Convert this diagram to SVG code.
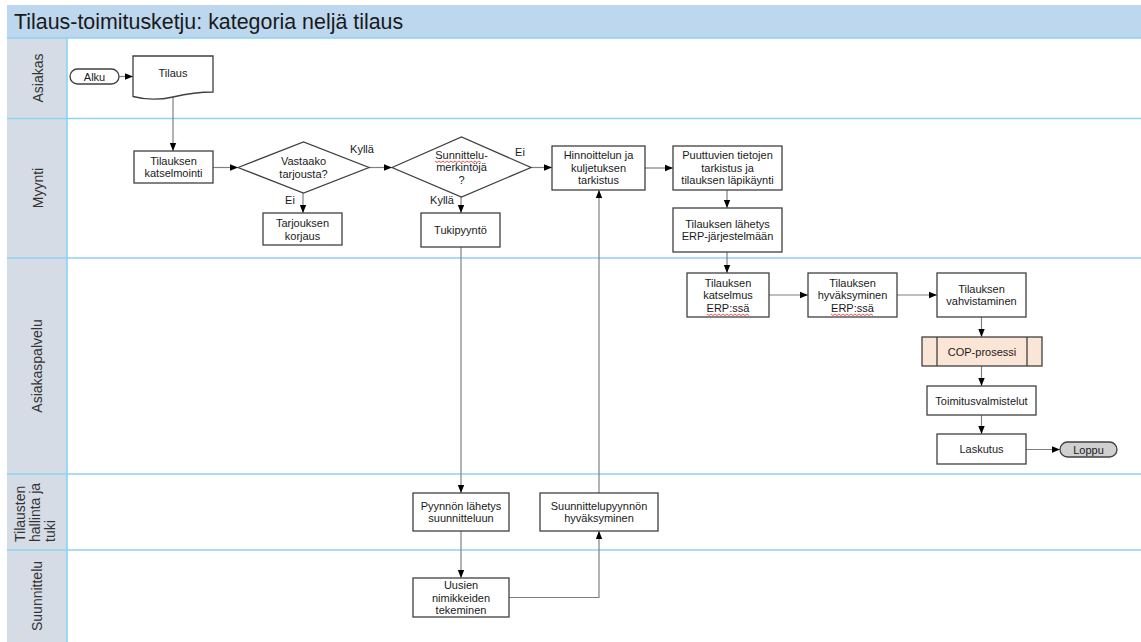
<svg xmlns="http://www.w3.org/2000/svg" width="1141" height="642" viewBox="0 0 1141 642">
<style>
.lane{stroke:#8dd3f2;stroke-width:1.6;fill:none}
.hdr{fill:#d6dce5}
.lt{font-family:"Liberation Sans",Arial,sans-serif;font-size:14px;fill:#333}
.box{fill:#fff;stroke:#404040;stroke-width:1.3}
.t{font-family:"Liberation Sans",Arial,sans-serif;font-size:11px;fill:#1a1a1a;text-anchor:middle}
.lbl{font-family:"Liberation Sans",Arial,sans-serif;font-size:11px;fill:#1a1a1a;text-anchor:middle}
.c{fill:none;stroke:#808080;stroke-width:1.2}
.sp{fill:none;stroke:#e03030;stroke-width:0.8}
</style>
<defs>
<marker id="arr" viewBox="0 0 10 10" refX="10" refY="5" markerWidth="8" markerHeight="8" orient="auto" markerUnits="userSpaceOnUse"><path d="M0,1 L10,5 L0,9 Z" fill="#000"/></marker>
</defs>
<rect x="0" y="0" width="1141" height="642" fill="#fff"/>
<g id="pool">
<rect x="7" y="5" width="1134" height="33" fill="#bdd7ee"/>
<text x="14" y="29" font-family="'Liberation Sans',Arial,sans-serif" font-size="21.4" fill="#1a1a1a">Tilaus-toimitusketju: kategoria neljä tilaus</text>
<rect class="hdr" x="7" y="38" width="60" height="604"/>
<line class="lane" x1="67" y1="38" x2="67" y2="642"/>
<line class="lane" x1="7" y1="38" x2="1141" y2="38"/>
<line class="lane" x1="7" y1="118.5" x2="1141" y2="118.5"/>
<line class="lane" x1="7" y1="258" x2="1141" y2="258"/>
<line class="lane" x1="7" y1="474" x2="1141" y2="474"/>
<line class="lane" x1="7" y1="550" x2="1141" y2="550"/>
</g>
<g id="lane-asiakas"><text class="lt" text-anchor="middle" transform="translate(43,78) rotate(-90)">Asiakas</text></g>
<g id="lane-myynti"><text class="lt" text-anchor="middle" transform="translate(43,188) rotate(-90)">Myynti</text></g>
<g id="lane-asiakaspalvelu"><text class="lt" text-anchor="middle" transform="translate(42,366) rotate(-90)">Asiakaspalvelu</text></g>
<g id="lane-tilausten"><text class="lt" transform="translate(25,542) rotate(-90)">Tilausten</text><text class="lt" transform="translate(40,542) rotate(-90)">hallinta ja</text><text class="lt" transform="translate(55,542) rotate(-90)">tuki</text></g>
<g id="lane-suunnittelu"><text class="lt" text-anchor="middle" transform="translate(42,596) rotate(-90)">Suunnittelu</text></g>

<g id="connectors">
<line class="c" x1="119" y1="76.5" x2="133" y2="76.5" marker-end="url(#arr)"/>
<line class="c" x1="173" y1="97" x2="173" y2="151" marker-end="url(#arr)"/>
<line class="c" x1="213" y1="167.5" x2="238" y2="167.5" marker-end="url(#arr)"/>
<line class="c" x1="369" y1="167.5" x2="392" y2="167.5" marker-end="url(#arr)"/>
<line class="c" x1="303" y1="193" x2="303" y2="213" marker-end="url(#arr)"/>
<line class="c" x1="531" y1="167.5" x2="552" y2="167.5" marker-end="url(#arr)"/>
<line class="c" x1="461" y1="197" x2="461" y2="213" marker-end="url(#arr)"/>
<line class="c" x1="645" y1="168" x2="673" y2="168" marker-end="url(#arr)"/>
<line class="c" x1="727" y1="190" x2="727" y2="208" marker-end="url(#arr)"/>
<line class="c" x1="727" y1="252" x2="727" y2="273" marker-end="url(#arr)"/>
<line class="c" x1="769" y1="295" x2="808" y2="295" marker-end="url(#arr)"/>
<line class="c" x1="897" y1="295" x2="937" y2="295" marker-end="url(#arr)"/>
<line class="c" x1="981.5" y1="317" x2="981.5" y2="337" marker-end="url(#arr)"/>
<line class="c" x1="981.5" y1="366" x2="981.5" y2="386" marker-end="url(#arr)"/>
<line class="c" x1="981.5" y1="415" x2="981.5" y2="434" marker-end="url(#arr)"/>
<line class="c" x1="1026" y1="449.5" x2="1060" y2="449.5" marker-end="url(#arr)"/>
<line class="c" x1="461" y1="247" x2="461" y2="493" marker-end="url(#arr)"/>
<line class="c" x1="461" y1="531" x2="461" y2="578" marker-end="url(#arr)"/>
<polyline class="c" points="509,597.5 599,597.5 599,531" marker-end="url(#arr)"/>
<line class="c" x1="599" y1="493" x2="599" y2="190" marker-end="url(#arr)"/>
</g>
<g id="labels">
<text class="lbl" x="362" y="153">Kyllä</text>
<text class="lbl" x="290" y="204">Ei</text>
<text class="lbl" x="520" y="156">Ei</text>
<text class="lbl" x="442" y="204">Kyllä</text>
</g>

<g id="alku"><rect class="box" x="70" y="69" width="49" height="15" rx="7.5"/><text class="t" x="94.5" y="80.5" font-size="11.5">Alku</text></g>
<g id="tilaus"><path class="box" d="M133,56 H213 V92 C198,92 186,94 173,97 C162,99.5 148,100.5 133,96.5 Z"/><text class="t" x="173" y="77">Tilaus</text></g>
<g id="katselmointi"><rect class="box" x="134" y="151" width="79" height="32"/><text class="t" x="173.5" y="164.8">Tilauksen</text><text class="t" x="173.5" y="177.3">katselmointi</text></g>
<g id="vastaako"><polygon class="box" points="238,167.5 303.5,142 369,167.5 303.5,193"/><text class="t" x="303.5" y="165">Vastaako</text><text class="t" x="303.5" y="177.5">tarjousta?</text></g>
<g id="korjaus"><rect class="box" x="263" y="213" width="79" height="32"/><text class="t" x="302.5" y="227">Tarjouksen</text><text class="t" x="302.5" y="239.5">korjaus</text></g>
<g id="sunnittelu"><polygon class="box" points="392,167.5 461.5,137 531,167.5 461.5,197"/><text class="t" x="461.5" y="158.5">Sunnittelu-</text><text class="t" x="461.5" y="171">merkintöjä</text><text class="t" x="461.5" y="183.5">?</text><path class="sp" d="M435,161 l2,1.5 l2,-1.5 l2,1.5 l2,-1.5 l2,1.5 l2,-1.5 l2,1.5 l2,-1.5 l2,1.5 l2,-1.5 l2,1.5 l2,-1.5 l2,1.5 l2,-1.5 l2,1.5 l2,-1.5 l2,1.5 l2,-1.5 l2,1.5 l2,-1.5 l2,1.5 l2,-1.5 l2,1.5"/></g>
<g id="tukipyynto"><rect class="box" x="421" y="213" width="79" height="34"/><text class="t" x="460.5" y="234">Tukipyyntö</text></g>
<g id="hinnoittelu"><rect class="box" x="552" y="146" width="93" height="44"/><text class="t" x="598.5" y="159">Hinnoittelun ja</text><text class="t" x="598.5" y="171.5">kuljetuksen</text><text class="t" x="598.5" y="184">tarkistus</text></g>
<g id="puuttuvien"><rect class="box" x="673" y="146" width="109" height="44"/><text class="t" x="727.5" y="159">Puuttuvien tietojen</text><text class="t" x="727.5" y="171.5">tarkistus ja</text><text class="t" x="727.5" y="184">tilauksen läpikäynti</text></g>
<g id="lahetys"><rect class="box" x="673" y="208" width="109" height="44"/><text class="t" x="727.5" y="227.5">Tilauksen lähetys</text><text class="t" x="727.5" y="240">ERP-järjestelmään</text></g>
<g id="katselmus"><rect class="box" x="687" y="273" width="82" height="44"/><text class="t" x="728" y="286.5">Tilauksen</text><text class="t" x="728" y="299">katselmus</text><text class="t" x="728" y="311.5">ERP:ssä</text><path class="sp" d="M707,314 l2,1.5 l2,-1.5 l2,1.5 l2,-1.5 l2,1.5 l2,-1.5 l2,1.5 l2,-1.5 l2,1.5 l2,-1.5 l2,1.5 l2,-1.5 l2,1.5 l2,-1.5 l2,1.5 l2,-1.5 l2,1.5 l2,-1.5 l2,1.5 l2,-1.5 l2,1.5"/></g>
<g id="hyvaksyminen"><rect class="box" x="808" y="273" width="89" height="44"/><text class="t" x="852.5" y="286.5">Tilauksen</text><text class="t" x="852.5" y="299">hyväksyminen</text><text class="t" x="852.5" y="311.5">ERP:ssä</text><path class="sp" d="M831,314 l2,1.5 l2,-1.5 l2,1.5 l2,-1.5 l2,1.5 l2,-1.5 l2,1.5 l2,-1.5 l2,1.5 l2,-1.5 l2,1.5 l2,-1.5 l2,1.5 l2,-1.5 l2,1.5 l2,-1.5 l2,1.5 l2,-1.5 l2,1.5 l2,-1.5 l2,1.5"/></g>
<g id="vahvistaminen"><rect class="box" x="937" y="273" width="89" height="44"/><text class="t" x="981.5" y="292.8">Tilauksen</text><text class="t" x="981.5" y="305.3">vahvistaminen</text></g>
<g id="cop"><rect x="922" y="337" width="120" height="29" fill="#fbe5d6" stroke="#404040" stroke-width="1.3"/><line x1="937" y1="337" x2="937" y2="366" stroke="#404040" stroke-width="1.3"/><line x1="1027" y1="337" x2="1027" y2="366" stroke="#404040" stroke-width="1.3"/><text class="t" x="982" y="355.5">COP-prosessi</text></g>
<g id="toimitus"><rect class="box" x="927" y="386" width="109" height="29"/><text class="t" x="981.5" y="404.5">Toimitusvalmistelut</text></g>
<g id="laskutus"><rect class="box" x="937" y="434" width="89" height="30"/><text class="t" x="981.5" y="453">Laskutus</text></g>
<g id="loppu"><rect x="1060" y="442" width="57" height="15" rx="7.5" fill="#d0d0d0" stroke="#404040" stroke-width="1.3"/><text class="t" x="1088.5" y="454" font-size="12">Loppu</text></g>
<g id="pyynnon"><rect class="box" x="413" y="493" width="96" height="38"/><text class="t" x="461" y="509.5">Pyynnön lähetys</text><text class="t" x="461" y="522">suunnitteluun</text></g>
<g id="suunnittelupyynnon"><rect class="box" x="540" y="493" width="118" height="38"/><text class="t" x="599" y="509.5">Suunnittelupyynnön</text><text class="t" x="599" y="522">hyväksyminen</text></g>
<g id="uusien"><rect class="box" x="413" y="578" width="96" height="39"/><text class="t" x="461" y="589">Uusien</text><text class="t" x="461" y="601.5">nimikkeiden</text><text class="t" x="461" y="614">tekeminen</text></g>
</svg>
